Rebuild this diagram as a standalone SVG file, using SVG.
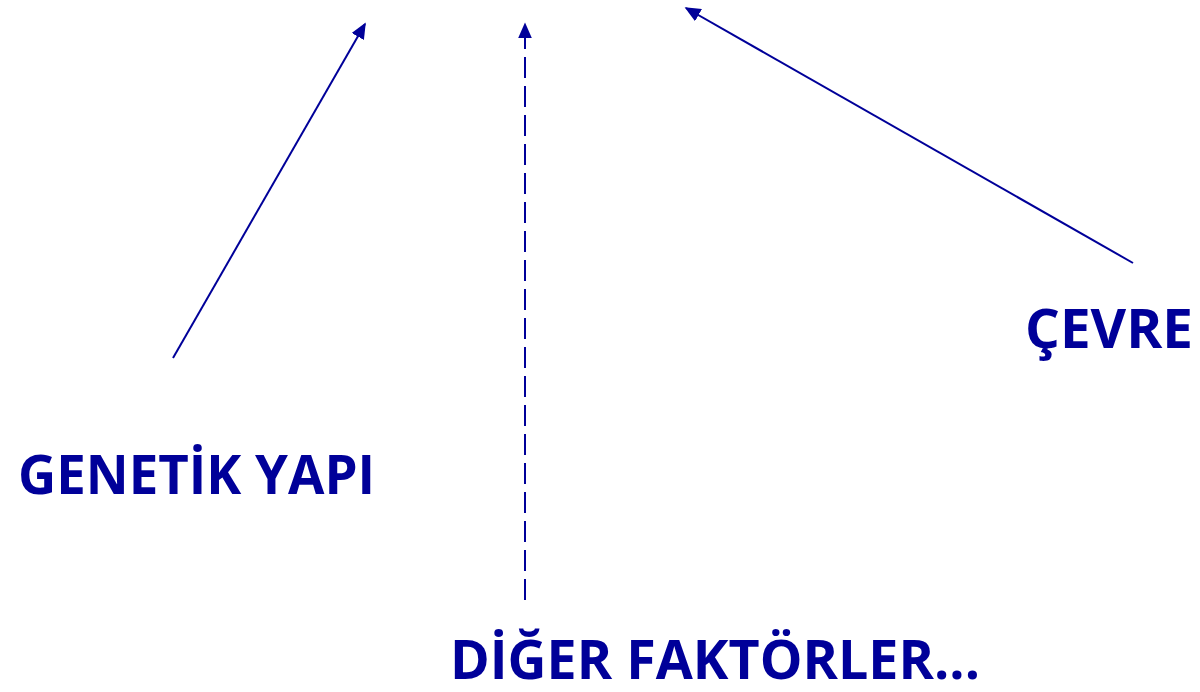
<svg xmlns="http://www.w3.org/2000/svg" width="1200" height="692" viewBox="0 0 1200 692">
<style>
.lbl{font-family:"Open Sans","Liberation Sans",sans-serif;font-weight:bold;font-size:54px;fill:#000099}
.con{stroke:#000099;stroke-width:2;fill:none}
</style>
<defs>
<marker id="ah2" viewBox="0 0 10 10" refX="9" refY="5" markerWidth="16" markerHeight="14" markerUnits="userSpaceOnUse" orient="auto" preserveAspectRatio="none">
<path d="M0,0 L10,5 L0,10 Z" fill="#000099"/>
</marker>
</defs>
<rect width="1200" height="692" fill="#ffffff"/>
<g id="connectors">
<line class="con" x1="173" y1="358" x2="365" y2="24" marker-end="url(#ah2)"/>
<line class="con" x1="525" y1="600" x2="525" y2="24" stroke-dasharray="21,8" marker-end="url(#ah2)"/>
<line class="con" x1="1133" y1="263" x2="686" y2="8" marker-end="url(#ah2)"/>
</g>
<g id="genetik"><text class="lbl" x="18" y="494" textLength="357" lengthAdjust="spacingAndGlyphs">GENETİK YAPI</text></g>
<g id="diger"><text class="lbl" x="450" y="679" style="font-size:53px" textLength="530" lengthAdjust="spacingAndGlyphs">DİĞER FAKTÖRLER...</text></g>
<g id="cevre"><text class="lbl" x="1025" y="348" textLength="168" lengthAdjust="spacingAndGlyphs">ÇEVRE</text></g>
</svg>
